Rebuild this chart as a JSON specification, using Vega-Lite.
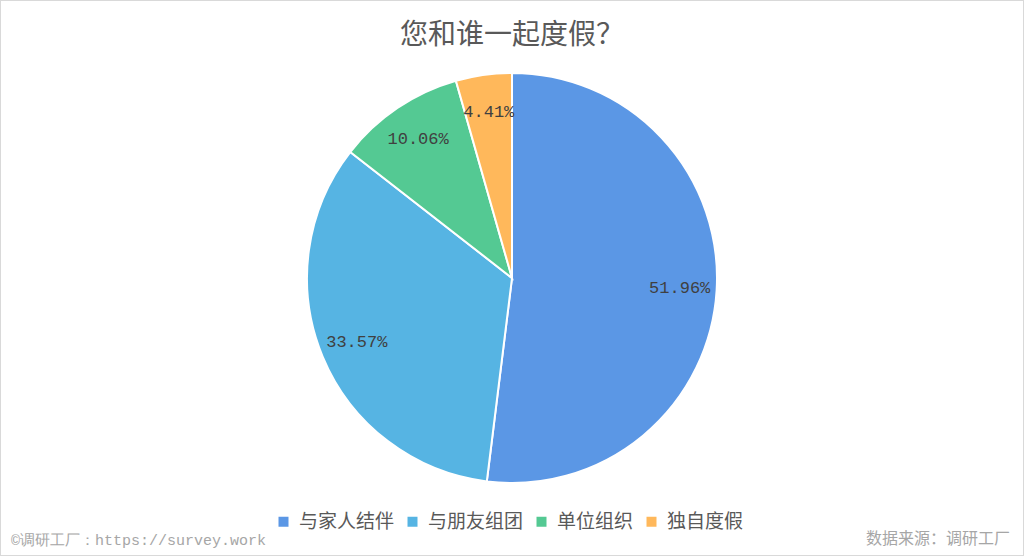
{
  "$schema": "https://vega.github.io/schema/vega-lite/v6.json",
  "width": 1024,
  "height": 556,
  "autosize": {"type": "fit", "contains": "padding"},
  "padding": 0,
  "background": "white",
  "title": {
    "text": "您和谁一起度假？",
    "offset": -50,
    "font": "Noto Sans CJK SC",
    "fontSize": 28,
    "fontWeight": "normal",
    "color": "#595959"
  },
  "datasets": {
    "share": [
      {"group": "与家人结伴", "pct": 51.96, "rank": 1},
      {"group": "与朋友组团", "pct": 33.57, "rank": 2},
      {"group": "单位组织", "pct": 10.06, "rank": 3},
      {"group": "独自度假", "pct": 4.41, "rank": 4}
    ],
    "notes": [
      {"note": "©调研工厂：https://survey.work", "side": "left"},
      {"note": "数据来源：调研工厂", "side": "right"}
    ]
  },
  "layer": [
    {
      "data": {"name": "share"},
      "mark": {"type": "arc", "outerRadius": 205, "stroke": "white", "strokeWidth": 2},
      "encoding": {
        "theta": {"field": "pct", "type": "quantitative", "stack": true},
        "order": {"field": "rank", "type": "quantitative"},
        "color": {
          "field": "group",
          "type": "nominal",
          "sort": ["与家人结伴", "与朋友组团", "单位组织", "独自度假"],
          "scale": {
            "domain": ["与家人结伴", "与朋友组团", "单位组织", "独自度假"],
            "range": ["#5B97E5", "#56B4E3", "#54C993", "#FFB85B"]
          },
          "legend": {
            "title": null,
            "orient": "none",
            "direction": "horizontal",
            "legendX": 274,
            "legendY": 512,
            "symbolType": "square",
            "symbolSize": 100,
            "symbolStrokeWidth": 0,
            "labelFont": "Noto Sans CJK SC",
            "labelFontSize": 19,
            "labelColor": "#595959",
            "columnPadding": 8,
            "labelOffset": 6
          }
        }
      }
    },
    {
      "data": {"name": "share"},
      "transform": [{"calculate": "format(datum.pct, '.2f') + '%'", "as": "label"}],
      "mark": {"type": "text", "radius": 168, "font": "Liberation Mono", "fontSize": 17, "color": "#404040"},
      "encoding": {
        "theta": {"field": "pct", "type": "quantitative", "stack": true},
        "order": {"field": "rank", "type": "quantitative"},
        "text": {"field": "label", "type": "nominal"}
      }
    },
    {
      "data": {"name": "notes"},
      "transform": [{"filter": "datum.side === 'left'"}],
      "mark": {"type": "text", "align": "left", "baseline": "middle", "font": "Liberation Mono", "fontSize": 15, "color": "#A6A6A6"},
      "encoding": {
        "x": {"value": 11},
        "y": {"value": 540},
        "text": {"field": "note"}
      }
    },
    {
      "data": {"name": "notes"},
      "transform": [{"filter": "datum.side === 'right'"}],
      "mark": {"type": "text", "align": "right", "baseline": "middle", "font": "Noto Sans CJK SC", "fontSize": 16, "color": "#A6A6A6"},
      "encoding": {
        "x": {"value": 1010},
        "y": {"value": 539},
        "text": {"field": "note"}
      }
    }
  ],
  "config": {
    "view": {"stroke": "#D9D9D9", "strokeWidth": 2}
  }
}
